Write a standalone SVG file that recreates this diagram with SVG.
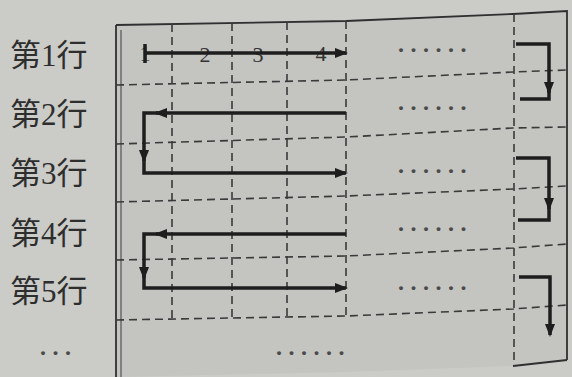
<svg xmlns="http://www.w3.org/2000/svg" width="572" height="377" viewBox="0 0 572 377">
<defs>
<style>
.lbl{font-family:"Liberation Serif","Noto Sans CJK SC",serif;font-size:31px;fill:#2e2e2e}
.num{font-family:"Liberation Serif",serif;font-size:22px;fill:#333;text-anchor:middle}
.dots{font-family:"Liberation Serif",serif;font-size:24px;font-weight:bold;fill:#4a4a4a;letter-spacing:6.5px}
.dash{fill:none;stroke:#3a3a3a;stroke-width:1.6;stroke-dasharray:8 5}
.frame{fill:none;stroke:#303030;stroke-width:1.8}
.path{fill:none;stroke:#1e1e1e;stroke-width:3.5;stroke-linejoin:miter}
.arr{marker-end:url(#ah)}
</style>
<marker id="ah" markerUnits="userSpaceOnUse" markerWidth="14" markerHeight="12" refX="11" refY="5" orient="auto">
<path d="M0,0 L13,5 L0,10 z" fill="#1e1e1e"/>
</marker>
</defs>
<rect x="0" y="0" width="572" height="377" fill="#cbcbc7"/>
<path d="M116,25 L346,21 L513,14 L567,11 L567,360 L513,366 L346,372 L116,377 Z" fill="#c4c4c0"/>

<g id="row-labels">
<text class="lbl" x="10" y="66">第1行</text>
<text class="lbl" x="10" y="125">第2行</text>
<text class="lbl" x="10" y="184">第3行</text>
<text class="lbl" x="10" y="244">第4行</text>
<text class="lbl" x="10" y="302">第5行</text>
<text class="dots" x="40" y="355">...</text>
</g>

<g id="grid">
<path class="frame" d="M116,25 L346,21 L513,14 L567,11 L567,360"/>
<path class="frame" d="M116,25 V377"/>
<path class="frame" d="M121,30 V377" stroke-width="0.8" opacity="0.5"/>
<path class="frame" d="M513,366 L567,360" stroke-width="1.4"/>
<path class="dash" d="M116,85 L346,80 L513,72 L567,70"/>
<path class="dash" d="M116,144 L346,137 L513,128 L567,127"/>
<path class="dash" d="M116,202 L346,196 L513,189 L567,186"/>
<path class="dash" d="M116,260 L346,256 L513,248 L567,244"/>
<path class="dash" d="M116,320 L346,316 L513,309 L567,305"/>
<path class="dash" d="M172,24 V320"/>
<path class="dash" d="M232,23 V319"/>
<path class="dash" d="M287,22 V318"/>
<path class="dash" d="M346,21 V316"/>
<path class="dash" d="M514,14 V366"/>
</g>

<g id="ellipses">
<text class="dots" x="398" y="52">......</text>
<text class="dots" x="398" y="110">......</text>
<text class="dots" x="398" y="173">......</text>
<text class="dots" x="398" y="231">......</text>
<text class="dots" x="398" y="290">......</text>
<text class="dots" x="276" y="355">......</text>
</g>

<g id="row1">
<text class="num" x="145" y="61">1</text>
<text class="num" x="205" y="62">2</text>
<text class="num" x="258" y="62">3</text>
<text class="num" x="321" y="61">4</text>
</g>

<g id="connectors">
<path class="path arr" d="M145,53 H346"/>
<path class="path" d="M145,44 V63" stroke-width="2.2"/>
<path class="path arr" d="M346,113 H156"/>
<path class="path arr" d="M158,113 H144 V161"/>
<path class="path arr" d="M144,159 V173 H346"/>
<path class="path arr" d="M346,234 H156"/>
<path class="path arr" d="M158,234 H144 V278"/>
<path class="path arr" d="M144,276 V288 H346"/>
<path class="path arr" d="M516,44 H549 V93"/>
<path class="path" d="M549,90 V99 H520"/>
<path class="path arr" d="M516,158 H549 V209"/>
<path class="path" d="M549,206 V220 H518"/>
<path class="path arr" d="M519,277 H550 V335"/>
</g>
</svg>
